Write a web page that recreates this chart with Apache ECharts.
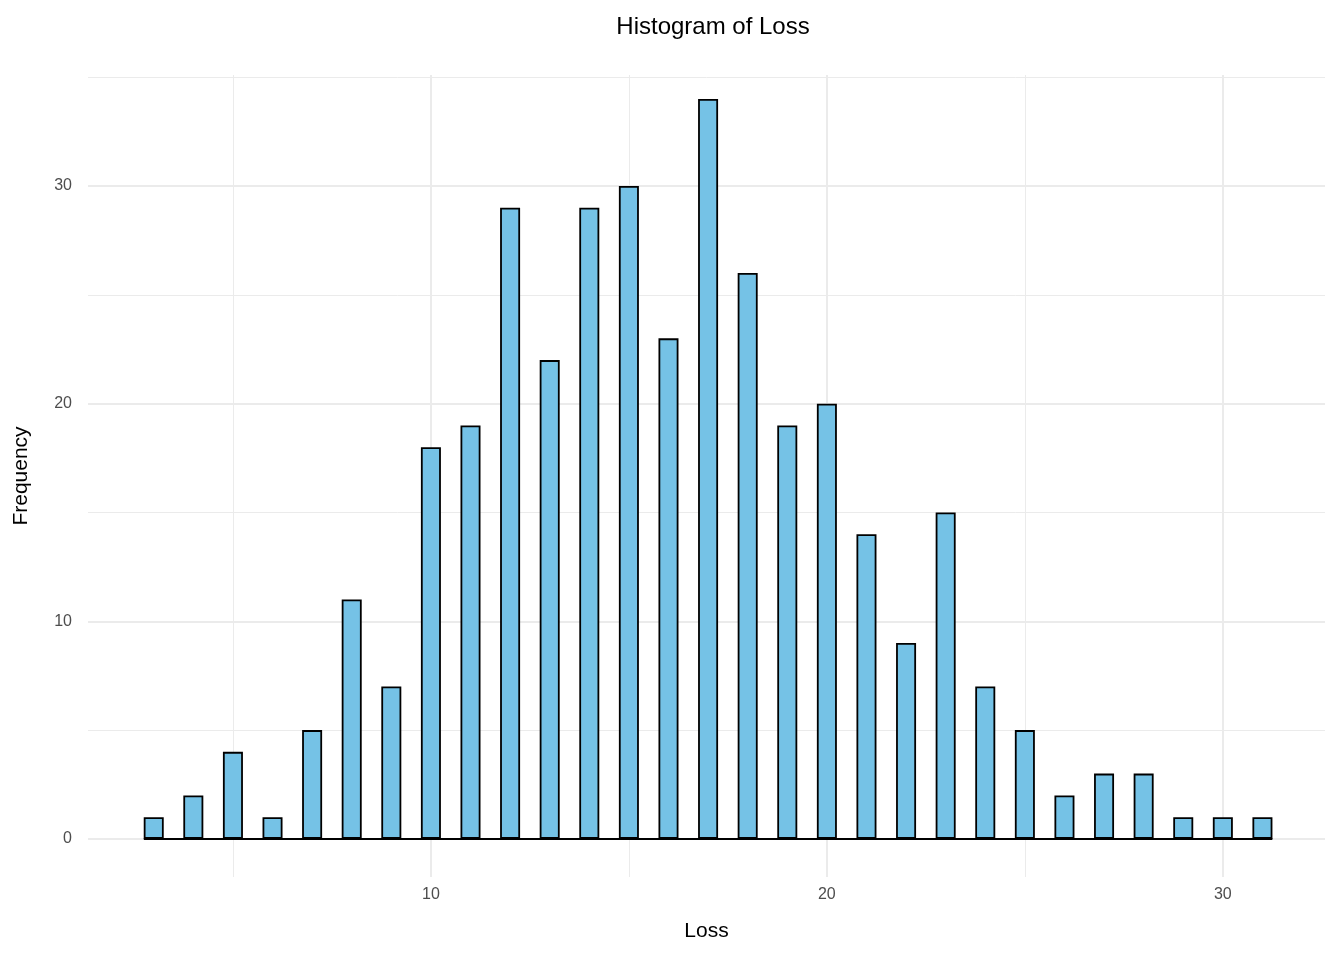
<!DOCTYPE html>
<html><head><meta charset="utf-8">
<script src="https://cdn.jsdelivr.net/npm/echarts@6/dist/echarts.min.js"></script>
<style>html,body{margin:0;padding:0;background:#fff}#c{width:1344px;height:960px}</style>
</head><body><div id="c"></div>
<script>
const lossValues = [3,4,5,6,7,8,9,10,11,12,13,14,15,16,17,18,19,20,21,22,23,24,25,26,27,28,29,30,31];
const frequency = [1,2,4,1,5,11,7,18,19,29,22,29,30,23,34,26,19,20,14,9,15,7,5,2,3,3,1,1,1];
const xMajor = [10,20,30];
const xMinor = [5,15,25];
const yMajor = [0,10,20,30];
const yMinor = [5,15,25,35];
const halfBin = 0.25;

const chart = echarts.init(document.getElementById('c'));
const grid = (vals, axis, w) => vals.map(v => ({[axis]: v, lineStyle: {color: '#ebebeb', width: w, type: 'solid'}}));
const first = lossValues[0] - halfBin, last = lossValues[lossValues.length - 1] + halfBin;
chart.setOption({
  animation: false,
  title: {text: 'Histogram of Loss', left: 708, textAlign: 'center', top: 10,
    textStyle: {fontFamily: 'Liberation Sans', fontSize: 24, fontWeight: 'normal', color: '#000'}},
  grid: {left: 88, right: 19, top: 75, bottom: 83},
  xAxis: {type: 'value', min: 1.34, max: 32.58, name: 'Loss', nameLocation: 'middle', nameGap: 44,
    nameTextStyle: {fontFamily: 'Liberation Sans', fontSize: 21, color: '#000'},
    axisLine: {show: false}, axisTick: {show: false}, splitLine: {show: false},
    axisLabel: {customValues: xMajor, color: '#4d4d4d', fontSize: 16, fontFamily: 'Liberation Sans', margin: 10}},
  yAxis: {type: 'value', min: -1.75, max: 35.1, name: 'Frequency', nameLocation: 'middle', nameGap: 56,
    nameTextStyle: {fontFamily: 'Liberation Sans', fontSize: 21, color: '#000'},
    axisLine: {show: false}, axisTick: {show: false}, splitLine: {show: false},
    axisLabel: {customValues: yMajor, color: '#4d4d4d', fontSize: 16, fontFamily: 'Liberation Sans', margin: 16}},
  series: [{
    type: 'bar', barWidth: 20, z: 3,
    data: lossValues.map((x, i) => [x, frequency[i]]),
    itemStyle: {color: '#75C2E6', borderColor: '#000', borderWidth: 1.8},
    markLine: {silent: true, symbol: 'none', label: {show: false}, z: 1,
      data: [].concat(grid(xMinor, 'xAxis', 1), grid(xMajor, 'xAxis', 2),
                      grid(yMinor, 'yAxis', 1), grid(yMajor, 'yAxis', 2))}
  }, {
    type: 'line', z: 4, symbol: 'none', silent: true,
    data: [[first, 0], [last, 0]],
    lineStyle: {color: '#000', width: 2}
  }]
});
</script></body></html>
